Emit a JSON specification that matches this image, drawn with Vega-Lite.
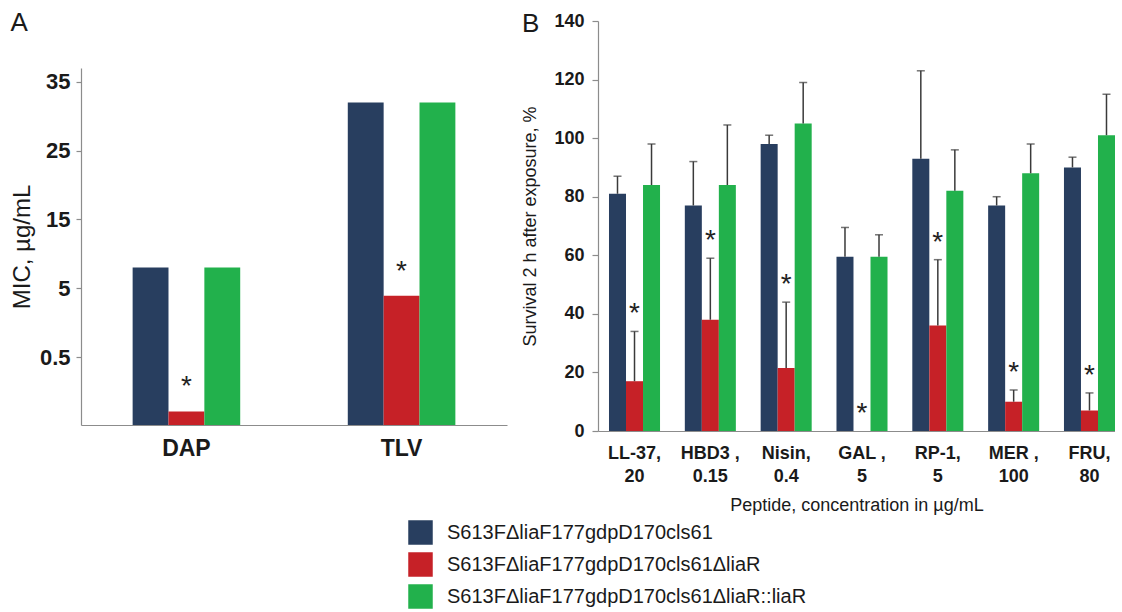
{
  "$schema": "https://vega.github.io/schema/vega-lite/v6.json",
  "padding": {"left": 10, "top": 10, "right": 0, "bottom": 0},
  "config": {
    "font": "Liberation Sans",
    "view": {"stroke": null},
    "axis": {"grid": false, "labelColor": "#1a1a1a", "titleColor": "#1a1a1a", "domainColor": "#8c8c8c", "tickColor": "#8c8c8c", "domainWidth": 1.2, "tickWidth": 1.2}
  },
  "spacing": 14,
  "resolve": {"scale": {"color": "shared", "xOffset": "independent"}},
  "hconcat": [
    {
      "width": 426,
      "height": 404,
      "title": {"text": "A", "anchor": "start", "frame": "bounds", "fontSize": 26, "fontWeight": "normal", "offset": -15, "color": "#1a1a1a"},
      "data": {"values": [
        {"drug": "DAP", "strain": "S613FΔliaF177gdpD170cls61", "mic": 8, "sig": false},
        {"drug": "DAP", "strain": "S613FΔliaF177gdpD170cls61ΔliaR", "mic": 0.1, "sig": true},
        {"drug": "DAP", "strain": "S613FΔliaF177gdpD170cls61ΔliaR::liaR", "mic": 8, "sig": false},
        {"drug": "TLV", "strain": "S613FΔliaF177gdpD170cls61", "mic": 32, "sig": false},
        {"drug": "TLV", "strain": "S613FΔliaF177gdpD170cls61ΔliaR", "mic": 4.5, "sig": true},
        {"drug": "TLV", "strain": "S613FΔliaF177gdpD170cls61ΔliaR::liaR", "mic": 32, "sig": false}
      ]},
      "encoding": {
        "x": {"field": "drug", "type": "nominal", "sort": ["DAP", "TLV"],
          "scale": {"type": "band", "paddingInner": 0.5, "paddingOuter": 0.24},
          "axis": {"title": null, "ticks": false, "labelAngle": 0, "labelFontSize": 23, "labelFontWeight": "bold", "labelPadding": 12}},
        "xOffset": {"field": "strain", "type": "nominal",
          "sort": ["S613FΔliaF177gdpD170cls61", "S613FΔliaF177gdpD170cls61ΔliaR", "S613FΔliaF177gdpD170cls61ΔliaR::liaR"],
          "scale": {"paddingInner": 0, "paddingOuter": 0}},
        "y": {"field": "mic", "type": "quantitative",
          "scale": {"domain": [0, 0.5, 5, 37], "range": [404, 336, 267, 47], "nice": false},
          "axis": {"values": [0.5, 5, 15, 25, 35], "labelExpr": "datum.value + ''", "title": "MIC, µg/mL", "titleFontSize": 24, "titleFontWeight": "normal", "titlePadding": 5, "labelFontSize": 22, "labelFontWeight": "bold", "labelPadding": 6, "tickSize": 5}}
      },
      "layer": [
        {"mark": {"type": "bar"},
          "encoding": {"color": {"field": "strain", "type": "nominal",
            "scale": {"domain": ["S613FΔliaF177gdpD170cls61", "S613FΔliaF177gdpD170cls61ΔliaR", "S613FΔliaF177gdpD170cls61ΔliaR::liaR"], "range": ["#283E5F", "#C62127", "#22B14C"]},
            "legend": {"orient": "none", "legendX": 327, "legendY": 499, "title": null, "symbolType": "square", "symbolSize": 600, "symbolStrokeWidth": 0, "labelFontSize": 20, "labelOffset": 14, "rowPadding": 7, "labelLimit": 700, "labelColor": "#1a1a1a", "direction": "vertical"}}}},
        {"transform": [{"filter": "datum.sig"}],
          "mark": {"type": "text", "text": "*", "fontSize": 28, "baseline": "alphabetic", "dy": -16, "color": "#222222"}}
      ]
    },
    {
      "width": 517,
      "height": 410,
      "title": {"text": "B", "anchor": "start", "frame": "bounds", "fontSize": 26, "fontWeight": "normal", "offset": -25, "color": "#1a1a1a"},
      "data": {"values": [
        {"peptide": "LL-37,\n20", "strain": "S613FΔliaF177gdpD170cls61", "survival": 81, "upper": 87, "sig": false},
        {"peptide": "LL-37,\n20", "strain": "S613FΔliaF177gdpD170cls61ΔliaR", "survival": 17, "upper": 34, "sig": true},
        {"peptide": "LL-37,\n20", "strain": "S613FΔliaF177gdpD170cls61ΔliaR::liaR", "survival": 84, "upper": 98, "sig": false},
        {"peptide": "HBD3 ,\n0.15", "strain": "S613FΔliaF177gdpD170cls61", "survival": 77, "upper": 92, "sig": false},
        {"peptide": "HBD3 ,\n0.15", "strain": "S613FΔliaF177gdpD170cls61ΔliaR", "survival": 38, "upper": 59, "sig": true},
        {"peptide": "HBD3 ,\n0.15", "strain": "S613FΔliaF177gdpD170cls61ΔliaR::liaR", "survival": 84, "upper": 104.5, "sig": false},
        {"peptide": "Nisin,\n0.4", "strain": "S613FΔliaF177gdpD170cls61", "survival": 98, "upper": 101, "sig": false},
        {"peptide": "Nisin,\n0.4", "strain": "S613FΔliaF177gdpD170cls61ΔliaR", "survival": 21.5, "upper": 44, "sig": true},
        {"peptide": "Nisin,\n0.4", "strain": "S613FΔliaF177gdpD170cls61ΔliaR::liaR", "survival": 105, "upper": 119, "sig": false},
        {"peptide": "GAL ,\n5", "strain": "S613FΔliaF177gdpD170cls61", "survival": 59.5, "upper": 69.5, "sig": false},
        {"peptide": "GAL ,\n5", "strain": "S613FΔliaF177gdpD170cls61ΔliaR", "survival": 0, "upper": 0, "sig": true},
        {"peptide": "GAL ,\n5", "strain": "S613FΔliaF177gdpD170cls61ΔliaR::liaR", "survival": 59.5, "upper": 67, "sig": false},
        {"peptide": "RP-1,\n5", "strain": "S613FΔliaF177gdpD170cls61", "survival": 93, "upper": 123, "sig": false},
        {"peptide": "RP-1,\n5", "strain": "S613FΔliaF177gdpD170cls61ΔliaR", "survival": 36, "upper": 58.5, "sig": true},
        {"peptide": "RP-1,\n5", "strain": "S613FΔliaF177gdpD170cls61ΔliaR::liaR", "survival": 82, "upper": 96, "sig": false},
        {"peptide": "MER ,\n100", "strain": "S613FΔliaF177gdpD170cls61", "survival": 77, "upper": 80, "sig": false},
        {"peptide": "MER ,\n100", "strain": "S613FΔliaF177gdpD170cls61ΔliaR", "survival": 10, "upper": 14, "sig": true},
        {"peptide": "MER ,\n100", "strain": "S613FΔliaF177gdpD170cls61ΔliaR::liaR", "survival": 88, "upper": 98, "sig": false},
        {"peptide": "FRU,\n80", "strain": "S613FΔliaF177gdpD170cls61", "survival": 90, "upper": 93.5, "sig": false},
        {"peptide": "FRU,\n80", "strain": "S613FΔliaF177gdpD170cls61ΔliaR", "survival": 7, "upper": 13, "sig": true},
        {"peptide": "FRU,\n80", "strain": "S613FΔliaF177gdpD170cls61ΔliaR::liaR", "survival": 101, "upper": 115, "sig": false}
      ]},
      "encoding": {
        "x": {"field": "peptide", "type": "nominal",
          "sort": ["LL-37,\n20", "HBD3 ,\n0.15", "Nisin,\n0.4", "GAL ,\n5", "RP-1,\n5", "MER ,\n100", "FRU,\n80"],
          "scale": {"type": "band", "paddingInner": 0.327, "paddingOuter": 0.0725, "align": 1},
          "axis": {"title": "Peptide, concentration in µg/mL", "titleFontSize": 18, "titleFontWeight": "normal", "titlePadding": 11, "ticks": false, "labelAngle": 0, "labelFontSize": 18, "labelFontWeight": "bold", "labelPadding": 13, "labelLineHeight": 23, "labelExpr": "split(datum.label, '\\n')"}},
        "xOffset": {"field": "strain", "type": "nominal",
          "sort": ["S613FΔliaF177gdpD170cls61", "S613FΔliaF177gdpD170cls61ΔliaR", "S613FΔliaF177gdpD170cls61ΔliaR::liaR"],
          "scale": {"paddingInner": 0, "paddingOuter": 0}}
      },
      "layer": [
        {"mark": {"type": "bar"},
          "encoding": {
            "y": {"field": "survival", "type": "quantitative", "scale": {"domain": [0, 140], "nice": false},
              "axis": {"values": [0, 20, 40, 60, 80, 100, 120, 140], "title": "Survival 2 h after exposure, %", "titleFontSize": 18, "titleFontWeight": "normal", "titlePadding": 14, "labelFontSize": 18, "labelFontWeight": "bold", "labelPadding": 8, "tickSize": 6}},
            "color": {"field": "strain", "type": "nominal",
              "scale": {"domain": ["S613FΔliaF177gdpD170cls61", "S613FΔliaF177gdpD170cls61ΔliaR", "S613FΔliaF177gdpD170cls61ΔliaR::liaR"], "range": ["#283E5F", "#C62127", "#22B14C"]},
              "legend": {"orient": "none", "legendX": 327, "legendY": 499, "title": null, "symbolType": "square", "symbolSize": 600, "symbolStrokeWidth": 0, "labelFontSize": 20, "labelOffset": 14, "rowPadding": 7, "labelLimit": 700, "labelColor": "#1a1a1a", "direction": "vertical"}}}},
        {"transform": [{"filter": "datum.upper > datum.survival"}],
          "mark": {"type": "rule", "color": "#3a3a3a", "strokeWidth": 1.5},
          "encoding": {"y": {"field": "survival", "type": "quantitative"}, "y2": {"field": "upper"}}},
        {"transform": [{"filter": "datum.upper > datum.survival"}],
          "mark": {"type": "tick", "color": "#3a3a3a", "thickness": 1.5, "size": 8, "orient": "horizontal"},
          "encoding": {"y": {"field": "upper", "type": "quantitative"}}},
        {"transform": [{"filter": "datum.sig"}],
          "mark": {"type": "text", "text": "*", "fontSize": 28, "baseline": "alphabetic", "dy": -9, "color": "#222222"},
          "encoding": {"y": {"field": "upper", "type": "quantitative"}}}
      ]
    }
  ]
}
